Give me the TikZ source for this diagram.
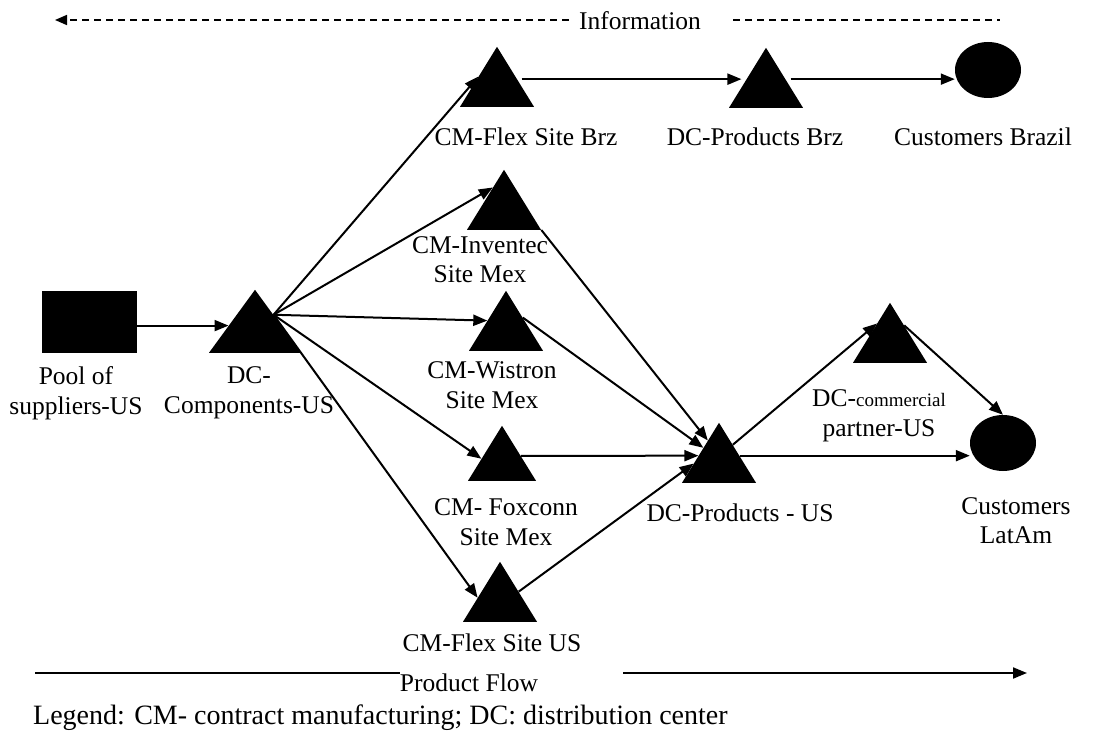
\documentclass[tikz,border=0pt]{standalone}
\usepackage{fontspec}
\setmainfont{Liberation Serif}
\usetikzlibrary{arrows.meta,shapes.geometric,calc}

\tikzset{
	site/.style={isosceles triangle, shape border rotate=90, isosceles triangle stretches,
		minimum width=74pt, minimum height=60pt, inner sep=0pt, fill=black, anchor=lower side},
	market/.style={ellipse, fill=black, minimum width=66pt, minimum height=56pt, inner sep=0pt},
	lbl/.style={align=center, font=\fontsize{25.5}{29.5}\selectfont, inner sep=0pt},
	flow/.style={line width=2pt, -{Triangle[length=14pt,width=11pt]}},
	infoline/.style={line width=1.6pt, dash pattern=on 7pt off 5pt},
}
% point on a side of a triangle node: #1 node, #2 corner, #3 fraction, #4 name
\newcommand{\sidept}[4]{\coordinate (#4) at ($(#1.apex)!#3!(#1.#2 corner)$);}

\begin{document}
\begin{tikzpicture}[x=1pt,y=-1pt]
	\useasboundingbox (0,0) rectangle (1093,735);

	% information flow
	\node[lbl] (info) at (640,21) {Information};
	\coordinate (infoL) at (55,20);
	\coordinate (infoR1) at (733,20);
	\coordinate (infoR2) at (1000,20);
	\draw[infoline, -{Triangle[length=12pt,width=10pt]}] (info.west) ++(-10,-1) -- (infoL);
	\draw[infoline] (infoR1) -- (infoR2);

	% nodes of the network
	\node[fill=black, minimum width=95pt, minimum height=62pt, inner sep=0pt] (pool) at (89.5,322) {};
	\node[site, minimum width=92pt, minimum height=63pt] (dcc) at (255,353) {};
	\node[site] (fbrz) at (497,107) {};
	\node[site] (dbrz) at (766,108) {};
	\node[market] (brazil) at (988,70) {};
	\node[site] (inv) at (504,230) {};
	\node[site] (wis) at (506,351) {};
	\node[site, minimum width=68pt, minimum height=55pt] (fox) at (502,481) {};
	\node[site] (fus) at (500,622) {};
	\node[site] (dpus) at (719,483) {};
	\node[site] (dcom) at (890,363) {};
	\node[market] (latam) at (1003,443) {};

	% labels
	\node[lbl] (poolL) at (76,393) {Pool of\\suppliers-US};
	\node[lbl] (dccL) at (249,393) {DC-\\Components-US};
	\node[lbl] (fbrzL) at (526,137) {CM-Flex Site Brz};
	\node[lbl] (dbrzL) at (755,137) {DC-Products Brz};
	\node[lbl] (brazilL) at (983,137) {Customers Brazil};
	\node[lbl] (invL) at (480,259.5) {CM-Inventec\\Site Mex};
	\node[lbl] (wisL) at (492,385) {CM-Wistron\\Site Mex};
	\node[lbl] (foxL) at (506,522) {CM- Foxconn\\Site Mex};
	\node[lbl] (fusL) at (492,643) {CM-Flex Site US};
	\node[lbl] (dpusL) at (740,513) {DC-Products - US};
	\node[lbl] (dcomL) at (879,416) {DC-{\fontsize{19}{22}\selectfont commercial}\\partner-US};
	\node[lbl] (latamL) at (1016,520.5) {Customers\\LatAm};

	% ends of the connectors on the triangle sides
	\sidept{dcc}{right}{0.4}{fan}
	\sidept{dcc}{left}{0.57}{dccIn}
	\sidept{inv}{left}{0.3}{invIn}
	\sidept{fox}{left}{0.6}{foxIn}
	\sidept{fox}{right}{0.55}{foxOut}
	\sidept{fus}{left}{0.6}{fusIn}
	\sidept{fus}{right}{0.5}{fusOut}
	\sidept{wis}{right}{0.45}{wisOut}
	\sidept{dpus}{left}{0.3}{dpusA}
	\sidept{dpus}{left}{0.42}{dpusB}
	\sidept{dpus}{left}{0.55}{dpusC}
	\sidept{dpus}{left}{0.68}{dpusD}
	\sidept{dpus}{right}{0.37}{dpusUp}
	\sidept{dpus}{right}{0.55}{dpusOut}
	\sidept{dcom}{left}{0.35}{dcomIn}
	\sidept{dcom}{right}{0.38}{dcomOut}
	\coordinate (brzRow) at ([yshift=7pt]fbrz.east);

	% connectors
	\draw[flow] (pool.east |- dccIn) -- (dccIn);
	\draw[flow] (fan) -- (fbrz.left side);
	\draw[flow] (fan) -- (invIn);
	\draw[flow] (fan) -- (wis.left side);
	\draw[flow] (fan) -- (foxIn);
	\draw[flow] (fan) -- (fusIn);
	\draw[flow] (brzRow) -- (brzRow -| dbrz.west);
	\draw[flow] (brzRow -| dbrz.east) -- (brzRow -| brazil.west);
	\draw[flow] (inv.right corner) -- (dpusA);
	\draw[flow] (wisOut) -- (dpusB);
	\draw[flow] (foxOut) -- (dpusC);
	\draw[flow] (fusOut) -- (dpusD);
	\draw[flow] (dpusUp) -- (dcomIn);
	\draw[flow] (dcomOut) -- (latam.north);
	\draw[flow] (dpusOut) -- (dpusOut -| latam.west);

	% product flow and legend
	\node[lbl] (pflow) at (469,683) {Product Flow};
	\coordinate (pL) at (35,673);
	\coordinate (pR1) at (623,673);
	\coordinate (pR2) at (1027,673);
	\draw[line width=2pt] (pL) -- (pL -| pflow.west);
	\draw[flow] (pR1) -- (pR2);
	\node[lbl, font=\fontsize{28}{32}\selectfont, anchor=west] (legend) at (33,718)
		{Legend: CM- contract manufacturing; DC: distribution center};
\end{tikzpicture}
\end{document}
